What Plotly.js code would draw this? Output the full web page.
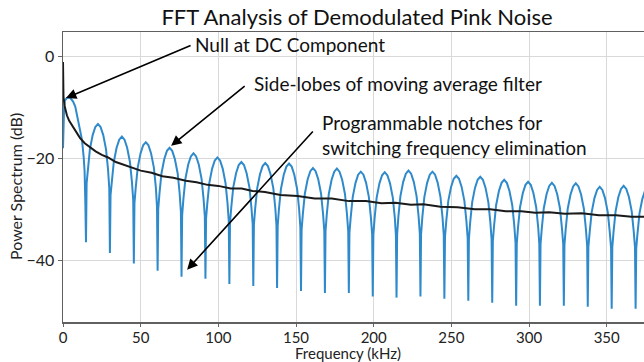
<!DOCTYPE html>
<html>
<head>
<meta charset="utf-8">
<script src="https://cdn.plot.ly/plotly-3.0.1.min.js"></script>
<style>html,body{margin:0;padding:0;background:#fff;}#chart{width:644px;height:362px;}</style>
</head>
<body>
<div id="chart"></div>
<script>
// Demodulated spectrum (blue), lobe by lobe
const freqBlue = [
 0,0.3,0.7,1.2,2.5,4.5,6.5,7.9,10.0,12.2,13.3,13.9,14.4, 14.8,
 15.2,16.0,17.3,19.1,20.8,22.5,24.2,25.9,27.7,29.0,29.8, 30.2,
 30.6,31.4,32.7,34.5,36.2,37.9,39.6,41.3,43.1,44.4,45.2, 45.6,
 46.0,46.8,48.1,49.9,51.6,53.3,55.0,56.7,58.5,59.8,60.5, 60.9,
 61.3,62.1,63.4,65.2,66.9,68.6,70.3,72.0,73.8,75.1,75.9, 76.3,
 76.7,77.5,78.8,80.6,82.3,84.0,85.7,87.4,89.2,90.5,91.3, 91.7,
 92.1,92.9,94.2,96.0,97.7,99.4,101.1,102.8,104.6,105.9,106.7, 107.1,
 107.5,108.3,109.6,111.4,113.1,114.8,116.5,118.2,120.0,121.3,122.1, 122.5,
 122.9,123.7,125.0,126.8,128.5,130.2,131.9,133.6,135.4,136.7,137.4, 137.8,
 138.2,139.0,140.3,142.1,143.8,145.5,147.2,148.9,150.7,152.0,152.8, 153.2,
 153.6,154.4,155.7,157.5,159.2,160.9,162.6,164.3,166.1,167.4,168.2, 168.6,
 169.0,169.8,171.1,172.9,174.6,176.3,178.0,179.7,181.5,182.8,183.6, 184.0,
 184.4,185.2,186.5,188.3,190.0,191.7,193.4,195.1,196.9,198.2,199.0, 199.4,
 199.8,200.6,201.9,203.7,205.4,207.1,208.8,210.5,212.3,213.6,214.3, 214.7,
 215.1,215.9,217.2,219.0,220.7,222.4,224.1,225.8,227.6,228.9,229.7, 230.1,
 230.5,231.3,232.6,234.4,236.1,237.8,239.5,241.2,243.0,244.3,245.1, 245.5,
 245.9,246.7,248.0,249.8,251.5,253.2,254.9,256.6,258.4,259.7,260.5, 260.9,
 261.3,262.1,263.4,265.2,266.9,268.6,270.3,272.0,273.8,275.1,275.9, 276.3,
 276.7,277.5,278.8,280.6,282.3,284.0,285.7,287.4,289.2,290.5,291.3, 291.7,
 292.1,292.9,294.2,296.0,297.7,299.4,301.1,302.8,304.6,305.9,306.6, 307.0,
 307.4,308.2,309.5,311.3,313.0,314.7,316.4,318.1,319.9,321.2,322.0, 322.4,
 322.8,323.6,324.9,326.7,328.4,330.1,331.8,333.5,335.3,336.6,337.4, 337.8,
 338.2,339.0,340.3,342.1,343.8,345.5,347.2,348.9,350.7,352.0,352.8, 353.2,
 353.6,354.4,355.7,357.5,359.2,360.9,362.6,364.3,366.1,367.4,368.2, 368.6,
 369.0,369.8,371.1,372.9,374.6,376.3
];
const powerBlue = [
 -18,-14,-10,-8.6,-8.1,-8.0,-8.8,-9.8,-13.0,-16.3,-19.7,-22.5,-29.0, -36.5,
 -24.9,-22.2,-18.2,-15.4,-13.8,-13.2,-13.8,-15.4,-18.2,-22.2,-25.9, -38.6,
 -27.2,-24.7,-20.7,-17.9,-16.3,-15.7,-16.3,-17.9,-20.7,-24.7,-28.2, -40.7,
 -28.8,-25.8,-21.8,-19.0,-17.4,-16.8,-17.4,-19.0,-21.8,-25.8,-29.5, -42.1,
 -30.0,-26.9,-22.9,-20.1,-18.5,-17.9,-18.5,-20.1,-22.9,-26.9,-30.6, -43.3,
 -31.2,-28.0,-24.0,-21.2,-19.6,-19.0,-19.6,-21.2,-24.0,-28.0,-31.4, -43.7,
 -31.8,-28.8,-24.8,-22.0,-20.4,-19.8,-20.4,-22.0,-24.8,-28.8,-32.3, -44.7,
 -32.7,-29.7,-25.7,-22.9,-21.3,-20.7,-21.3,-22.9,-25.7,-29.7,-32.9, -45.1,
 -33.0,-29.9,-25.9,-23.1,-21.5,-20.9,-21.5,-23.1,-25.9,-29.9,-33.2, -45.5,
 -33.3,-30.0,-26.0,-23.2,-21.6,-21.0,-21.6,-23.2,-26.0,-30.0,-33.6, -46.1,
 -34.0,-30.9,-26.9,-24.1,-22.5,-21.9,-22.5,-24.1,-26.9,-30.9,-34.2, -46.5,
 -34.3,-31.0,-27.0,-24.2,-22.6,-22.0,-22.6,-24.2,-27.0,-31.0,-34.3, -46.5,
 -34.6,-31.6,-27.6,-24.8,-23.2,-22.6,-23.2,-24.8,-27.6,-31.6,-34.9, -47.2,
 -35.0,-31.7,-27.7,-24.9,-23.3,-22.7,-23.3,-24.9,-27.7,-31.7,-35.1, -47.4,
 -34.9,-31.4,-27.4,-24.6,-23.0,-22.4,-23.0,-24.6,-27.4,-31.4,-34.8, -47.2,
 -34.9,-31.6,-27.6,-24.8,-23.2,-22.6,-23.2,-24.8,-27.6,-31.6,-35.1, -47.6,
 -35.5,-32.4,-28.4,-25.6,-24.0,-23.4,-24.0,-25.6,-28.4,-32.4,-35.7, -48.0,
 -35.8,-32.6,-28.6,-25.8,-24.2,-23.6,-24.2,-25.8,-28.6,-32.6,-36.0, -48.4,
 -36.3,-33.2,-29.2,-26.4,-24.8,-24.2,-24.8,-26.4,-29.2,-33.2,-36.6, -49.0,
 -36.8,-33.6,-29.6,-26.8,-25.2,-24.6,-25.2,-26.8,-29.6,-33.6,-36.8, -49.0,
 -36.9,-33.8,-29.8,-27.0,-25.4,-24.8,-25.4,-27.0,-29.8,-33.8,-36.9, -49.0,
 -37.0,-33.9,-29.9,-27.1,-25.5,-24.9,-25.5,-27.1,-29.9,-33.9,-37.1, -49.2,
 -37.4,-34.6,-30.6,-27.8,-26.2,-25.6,-26.2,-27.8,-30.6,-34.6,-37.6, -49.6,
 -37.5,-34.4,-30.4,-27.6,-26.0,-25.4,-26.0,-27.6,-30.4,-34.4,-37.5, -49.6,
 -37.7,-34.8,-30.8,-28.0,-26.4,-25.8
];
// Pink noise reference (black)
const freqRef = [0,0.3,1,2.5,4,6,8,11,14,17.5,21,25,29,34,39,44,50,57,64,71,79,86,93,100,108,115,122,130,140,151,162,173,184,195,205,214,224,232,243,254,265,275,285,295,304,313,323,334,345,356,366,374];
const powerRef = [-1.0,-7.8,-9.6,-11.5,-12.6,-13.6,-14.6,-16.0,-17.0,-17.8,-18.6,-19.3,-19.8,-20.7,-21.2,-21.8,-22.4,-22.8,-23.5,-23.8,-24.4,-24.7,-25.2,-25.4,-25.9,-25.9,-26.4,-26.6,-27.2,-27.4,-27.9,-27.9,-28.4,-28.4,-28.8,-28.7,-29.1,-29.0,-29.5,-29.6,-30.0,-30.0,-30.4,-30.4,-30.7,-30.6,-30.9,-30.8,-31.2,-31.2,-31.5,-31.5];

const xTicks = [0,50,100,150,200,250,300,350];
const yTicks = [0,-20,-40];

const titleText = 'FFT Analysis of Demodulated Pink Noise';
const xTitle = 'Frequency (kHz)';
const yTitle = 'Power Spectrum (dB)';
const noteTexts = ['Null at DC Component','Side-lobes of moving average filter','Programmable notches for','switching frequency elimination'];

const FONT = 'Lato, "Open Sans", sans-serif';

const traces = [
  {x: freqBlue, y: powerBlue, type:'scatter', mode:'lines', line:{color:'#2f8acb', width:2}, hoverinfo:'skip'},
  {x: freqRef, y: powerRef, type:'scatter', mode:'lines', line:{color:'#1a1a1a', width:2}, hoverinfo:'skip'}
];

function txt(t, x, y){
  return {text:t, x:x, y:y, xref:'x', yref:'y', showarrow:false, xanchor:'left', yanchor:'middle', font:{family:FONT, size:19, color:'#111'}};
}
function arr(tx, ty, hx, hy){
  return {text:'', x:hx, y:hy, ax:tx, ay:ty, xref:'x', yref:'y', axref:'x', ayref:'y', showarrow:true, arrowhead:2, arrowsize:1.3, arrowwidth:1.6, arrowcolor:'#000'};
}

const layout = {
  width:644, height:362,
  margin:{l:63, r:0, t:32, b:40},
  paper_bgcolor:'#fff', plot_bgcolor:'#fff',
  showlegend:false,
  font:{family:FONT, color:'#222'},
  title:{text:titleText, x:357/644, xref:'container', xanchor:'center', y:1-17/362, yref:'container', yanchor:'middle', font:{family:FONT, size:22, color:'#111'}},
  xaxis:{range:[0,374], tickvals:xTicks, ticks:'outside', ticklen:3, tickcolor:'#666', showline:true, linecolor:'#606060', linewidth:1.5, mirror:true, showgrid:true, gridcolor:'#d9d9d9', gridwidth:1, zeroline:false, ticklabelstandoff:-2, tickfont:{family:FONT, size:15, color:'#222'}},
  yaxis:{range:[-52.2,4.9], tickvals:yTicks, ticks:'outside', ticklen:4, tickcolor:'#666', showline:true, linecolor:'#606060', linewidth:1.5, showgrid:true, gridcolor:'#d9d9d9', gridwidth:1, zeroline:false, tickfont:{family:FONT, size:16, color:'#222'}},
  annotations:[
    {text:xTitle, xref:'paper', yref:'paper', x:(348-63)/581, y:(322-353)/290, xanchor:'center', yanchor:'middle', showarrow:false, font:{family:FONT, size:15, color:'#222'}},
    {text:yTitle, xref:'paper', yref:'paper', x:(15-63)/581, y:(322-186)/290, xanchor:'center', yanchor:'middle', textangle:-90, showarrow:false, font:{family:FONT, size:16, color:'#222'}},
    txt(noteTexts[0], 83.8, 2.4),
    txt(noteTexts[1], 121.8, -5.3),
    txt(noteTexts[2], 165.6, -13.0),
    txt(noteTexts[3], 165.6, -17.9),
    arr(83.1, 2.36, 1.9, -8.1),
    arr(117.9, -5.5, 69.6, -17.5),
    arr(161.7, -14.4, 79.9, -41.9)
  ]
};

Plotly.newPlot('chart', traces, layout, {staticPlot:true, displayModeBar:false});
</script>
</body>
</html>
